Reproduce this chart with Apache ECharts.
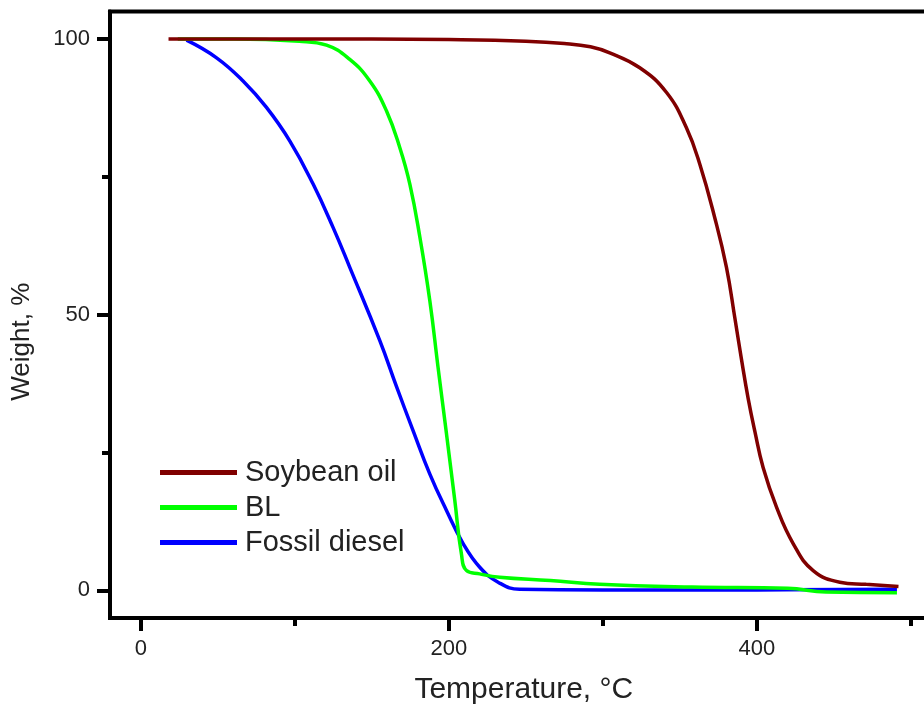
<!DOCTYPE html>
<html>
<head>
<meta charset="utf-8">
<title>TGA curves</title>
<script src="https://cdn.jsdelivr.net/npm/echarts@6/dist/echarts.min.js"></script>
<style>
  html, body { margin: 0; padding: 0; background: #fff; overflow: hidden; }
  #chart { width: 924px; height: 711px; }
</style>
</head>
<body>
<div id="chart"></div>
<script>
// Thermogravimetric curves: residual weight (%) vs temperature (°C)
const soyT = [18, 50, 100, 150, 200, 250, 275, 292, 304.5, 324, 341.4, 354.3, 363, 372.7, 380.3, 385.7, 390, 394.4, 398.7, 404.1, 412.8, 423.6, 436.6, 453.9, 471, 492];
const soyW = [100, 100, 100, 100, 99.9, 99.6, 99.2, 98.6, 97.5, 94.8, 90.3, 83.9, 77.3, 67.6, 58.6, 49.5, 42.0, 34.8, 28.9, 22.3, 15.1, 8.5, 3.6, 1.5, 1.1, 0.7];

const blT = [24, 60, 103, 120.6, 135.7, 148.7, 159.5, 168.2, 174.7, 181.2, 187.7, 193, 198.5, 203.9, 208.2, 211.5, 220, 233, 266, 298, 358, 420, 445, 491];
const blW = [100, 100, 99.6, 98.9, 96.3, 92.4, 87.0, 80.3, 73.7, 64.1, 52.5, 40.5, 28.4, 16.3, 6.6, 3.6, 3.0, 2.4, 1.8, 1.1, 0.6, 0.4, -0.3, -0.4];

const dieselT = [29.7, 49.2, 66.4, 81.6, 96.8, 111.9, 124.9, 135.7, 155.2, 166, 176.8, 187.7, 198.5, 209.3, 220.1, 232, 246, 300, 400, 491];
const dieselW = [99.8, 96.6, 92.4, 87.6, 81.5, 73.7, 65.8, 58.6, 45.3, 37.0, 29.0, 21.1, 14.5, 8.5, 4.2, 1.5, 0.2, 0.1, 0.1, 0.2];

const seriesNames = ['Soybean oil', 'BL', 'Fossil diesel'];
const seriesColors = ['#800000', '#00ff00', '#0000ff'];

const xMajor = [0, 200, 400];
const xMinor = [100, 300, 500];
const yMajor = [0, 50, 100];
const yMinor = [25, 75];

const FONT = '"Liberation Sans", Arial, sans-serif';
const TXT = '#222';

function pairs(xs, ys) { return xs.map((x, i) => [x, ys[i]]); }

const curves = [pairs(soyT, soyW), pairs(blT, blW), pairs(dieselT, dieselW)];

const chart = echarts.init(document.getElementById('chart'), null, { renderer: 'canvas' });

const xBase = { type: 'value', min: -20, max: 520, splitLine: { show: false } };
const yBase = { type: 'value', min: -5, max: 105, splitLine: { show: false } };
const tickLine = { color: '#000', width: 4 };

chart.setOption({
  backgroundColor: '#fff',
  animation: false,
  grid: {
    left: 110, top: 11.5, width: 831.6, height: 606.5,
    outerBoundsMode: 'none', containLabel: false,
    show: true, borderColor: '#000', borderWidth: 4, backgroundColor: 'transparent'
  },
  legend: {
    orient: 'vertical', left: 155, top: 453,
    itemWidth: 77, itemHeight: 14, itemGap: 6,
    data: seriesNames.map((n, i) => ({ name: n, icon: 'path://M0,0H77V5H0Z', itemStyle: { color: seriesColors[i] } })),
    textStyle: { fontFamily: FONT, fontSize: 29, color: TXT, padding: [0, 0, 0, 3] }
  },
  xAxis: [
    Object.assign({}, xBase, {
      position: 'bottom',
      name: 'Temperature, °C', nameLocation: 'middle', nameGap: 57,
      nameTextStyle: { fontFamily: FONT, fontSize: 30, color: TXT, padding: [0, 4, 0, 0] },
      axisLine: { show: true, onZero: false, lineStyle: tickLine },
      axisTick: { show: true, customValues: xMajor, length: 13, lineStyle: tickLine },
      axisLabel: { customValues: xMajor, margin: 20, fontFamily: FONT, fontSize: 22, color: TXT }
    }),
    Object.assign({}, xBase, {
      position: 'bottom',
      axisLine: { show: false, onZero: false },
      axisTick: { show: true, customValues: xMinor, length: 8, lineStyle: tickLine },
      axisLabel: { show: false }
    })
  ],
  yAxis: [
    Object.assign({}, yBase, {
      position: 'left',
      name: 'Weight, %', nameLocation: 'middle', nameGap: 75, nameRotate: 90,
      nameTextStyle: { fontFamily: FONT, fontSize: 26, color: TXT, padding: [0, 54, 0, 0] },
      axisLine: { show: true, onZero: false, lineStyle: tickLine },
      axisTick: { show: true, customValues: yMajor, length: 13, lineStyle: tickLine },
      axisLabel: { customValues: yMajor, margin: 20, fontFamily: FONT, fontSize: 22, color: TXT }
    }),
    Object.assign({}, yBase, {
      position: 'left',
      axisLine: { show: false, onZero: false },
      axisTick: { show: true, customValues: yMinor, length: 8, lineStyle: tickLine },
      axisLabel: { show: false }
    })
  ],
  series: curves.map((d, i) => ({
    name: seriesNames[i],
    type: 'line',
    xAxisIndex: 0, yAxisIndex: 0,
    data: d,
    showSymbol: false, symbol: 'none',
    smooth: 0.45,
    lineStyle: { color: seriesColors[i], width: 3.5 },
    itemStyle: { color: seriesColors[i] },
    z: 3 - i
  }))
});
</script>
</body>
</html>
